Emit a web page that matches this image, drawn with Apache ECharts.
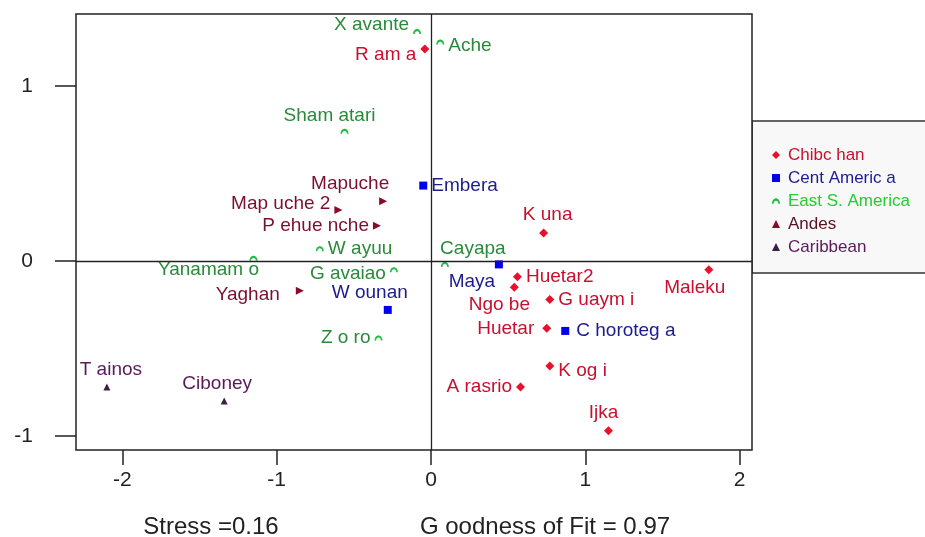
<!DOCTYPE html>
<html>
<head>
<meta charset="utf-8">
<script src="https://cdn.jsdelivr.net/npm/echarts@6/dist/echarts.min.js"></script>
<style>
  html, body { margin: 0; padding: 0; background: #fff; }
  #chart { width: 925px; height: 537px; }
</style>
</head>
<body>
<div id="chart"></div>
<script>
// group data (MDS coordinates)
const chibchanNames = ['R am a', 'K una', 'Huetar2', 'Ngo be', 'G uaym i', 'Maleku', 'Huetar', 'K og i', 'A rasrio', 'Ijka'];
const chibchanX = [-0.04, 0.73, 0.56, 0.54, 0.77, 1.80, 0.75, 0.77, 0.58, 1.15];
const chibchanY = [1.21, 0.16, -0.09, -0.15, -0.22, -0.05, -0.385, -0.60, -0.72, -0.97];

const centralNames = ['Embera', 'Maya', 'W ounan', 'C horoteg a'];
const centralX = [-0.05, 0.44, -0.28, 0.87];
const centralY = [0.43, -0.02, -0.28, -0.40];

const eastNames = ['X avante', 'Ache', 'Sham atari', 'W ayuu', 'Yanamam o', 'G avaiao', 'Z o ro', 'Cayapa'];
const eastX = [-0.09, 0.06, -0.56, -0.72, -1.15, -0.24, -0.34, 0.09];
const eastY = [1.31, 1.25, 0.74, 0.07, 0.015, -0.05, -0.44, -0.02];

const andesNames = ['Mapuche', 'Map uche 2', 'P ehue nche', 'Yaghan'];
const andesX = [-0.31, -0.60, -0.35, -0.85];
const andesY = [0.34, 0.29, 0.20, -0.17];

const caribNames = ['T ainos', 'Ciboney'];
const caribX = [-2.10, -1.34];
const caribY = [-0.72, -0.80];

const groupNames = ['Chibc han', 'Cent Americ a', 'East S. America', 'Andes', 'Caribbean'];
const xTicks = [-2, -1, 0, 1, 2];
const yTicks = [-1, 0, 1];

// where each label sits relative to its marker
const labelPlace = {
    'R am a': ['left', 0, 6], 'K una': ['top', 4, 0], 'Huetar2': ['right', 0, 0],
    'Ngo be': ['bottom', -15, 0], 'G uaym i': ['right', 0, 0], 'Maleku': ['bottom', -14, 0],
    'Huetar': ['left', -4, 0], 'K og i': ['right', 0, 5], 'A rasrio': ['left', 0, 0],
    'Ijka': ['top', -5, 0],
    'Embera': ['right', 0, 0], 'Maya': ['bottom', -27, 0], 'W ounan': ['top', -18, 0],
    'C horoteg a': ['right', 3, 0],
    'X avante': ['left', 0, -7], 'Ache': ['right', 0, 4], 'Sham atari': ['top', -15, 0],
    'W ayuu': ['right', 0, 0], 'Yanamam o': ['bottom', -45, -4], 'G avaiao': ['left', 0, 4],
    'Z o ro': ['left', 0, 0], 'Cayapa': ['top', 28, 0],
    'Mapuche': ['top', -33, 0], 'Map uche 2': ['left', 0, -6], 'P ehue nche': ['left', 0, 0],
    'Yaghan': ['left', -12, 4],
    'T ainos': ['top', 4, 0], 'Ciboney': ['top', -7, 0]
};

const FONT = '"Liberation Sans", Arial, sans-serif';
const archPath = 'path://M0,8 C0,2 4,0 6,0 C8,0 12,2 12,8 L9.5,8 C9.5,5 8,3.5 6,3.5 C4,3.5 2.5,5 2.5,8 Z';

function makeData(names, xs, ys, color) {
    return names.map((n, i) => {
        const p = labelPlace[n] || ['right', 0, 0];
        return {
            name: n,
            value: [xs[i], ys[i]],
            label: { position: p[0], offset: [p[1], p[2]], color: color }
        };
    });
}

function makeSeries(name, data, symbol, size, markerColor, rotate) {
    return {
        name: name,
        type: 'scatter',
        symbol: symbol,
        symbolSize: size,
        symbolRotate: rotate || 0,
        itemStyle: { color: markerColor, opacity: 1 },
        label: {
            show: true,
            formatter: '{b}',
            fontFamily: FONT,
            fontSize: 19,
            distance: 4
        },
        emphasis: { disabled: true },
        data: data
    };
}

const chart = echarts.init(document.getElementById('chart'));

const series = [
    makeSeries(groupNames[0], makeData(chibchanNames, chibchanX, chibchanY, '#c8102e'), 'diamond', 9, '#e8102a'),
    makeSeries(groupNames[1], makeData(centralNames, centralX, centralY, '#1c1c8e'), 'rect', 8, '#0000ee'),
    makeSeries(groupNames[2], makeData(eastNames, eastX, eastY, '#2a8a3a'), archPath, [8, 5], '#22bb44'),
    makeSeries(groupNames[3], makeData(andesNames, andesX, andesY, '#7a1030'), 'triangle', 8, '#8b0a2a', -90),
    makeSeries(groupNames[4], makeData(caribNames, caribX, caribY, '#5a1a5a'), 'triangle', 7, '#3a2040')
];

// zero lines through the plot
series[0].markLine = {
    silent: true,
    symbol: 'none',
    label: { show: false },
    lineStyle: { color: '#222', width: 1.3, type: 'solid' },
    data: [{ xAxis: 0 }, { yAxis: 0 }]
};

const legendColors = ['#c8102e', '#1c1c8e', '#22cc33', '#5a1020', '#5a1a5a'];

const option = {
    backgroundColor: '#fff',
    animation: false,
    grid: {
        left: 76, top: 14, right: 173, bottom: 87,
        show: true,
        borderColor: '#222',
        borderWidth: 1.5,
        backgroundColor: '#fff'
    },
    xAxis: {
        type: 'value',
        min: -2.3,
        max: 2.08,
        splitLine: { show: false },
        axisLine: { show: false, onZero: false },
        axisTick: { show: true, length: 15, lineStyle: { color: '#222', width: 1.5 }, customValues: xTicks },
        axisLabel: { margin: 20, fontSize: 21, color: '#222', fontFamily: FONT, customValues: xTicks }
    },
    yAxis: {
        type: 'value',
        min: -1.08,
        max: 1.41,
        splitLine: { show: false },
        axisLine: { show: false, onZero: false },
        axisTick: { show: true, length: 21, lineStyle: { color: '#222', width: 1.5 }, customValues: yTicks },
        axisLabel: { margin: 43, fontSize: 21, color: '#222', fontFamily: FONT, customValues: yTicks }
    },
    legend: {
        orient: 'vertical',
        left: 767,
        top: 141,
        itemWidth: 8,
        itemHeight: 8,
        itemGap: 5,
        selectedMode: false,
        data: groupNames.map((g, i) => ({
            name: g,
            textStyle: { color: legendColors[i] }
        })),
        textStyle: { fontFamily: FONT, fontSize: 17, lineHeight: 18, padding: [0, 0, 0, 3] }
    },
    graphic: [
        {
            type: 'rect',
            z: -1,
            shape: { x: 752, y: 121, width: 185, height: 152 },
            style: { fill: '#f8f8f8', stroke: '#333', lineWidth: 1.5 }
        },
        {
            type: 'text',
            x: 211, y: 527,
            style: {
                text: 'Stress =0.16', fill: '#222',
                font: '24px ' + FONT,
                textAlign: 'center', textVerticalAlign: 'middle'
            }
        },
        {
            type: 'text',
            x: 545, y: 527,
            style: {
                text: 'G oodness of Fit = 0.97', fill: '#222',
                font: '24px ' + FONT,
                textAlign: 'center', textVerticalAlign: 'middle'
            }
        }
    ],
    series: series
};

chart.setOption(option);
window.addEventListener('resize', function () {
    chart.resize();
});
</script>
</body>
</html>
